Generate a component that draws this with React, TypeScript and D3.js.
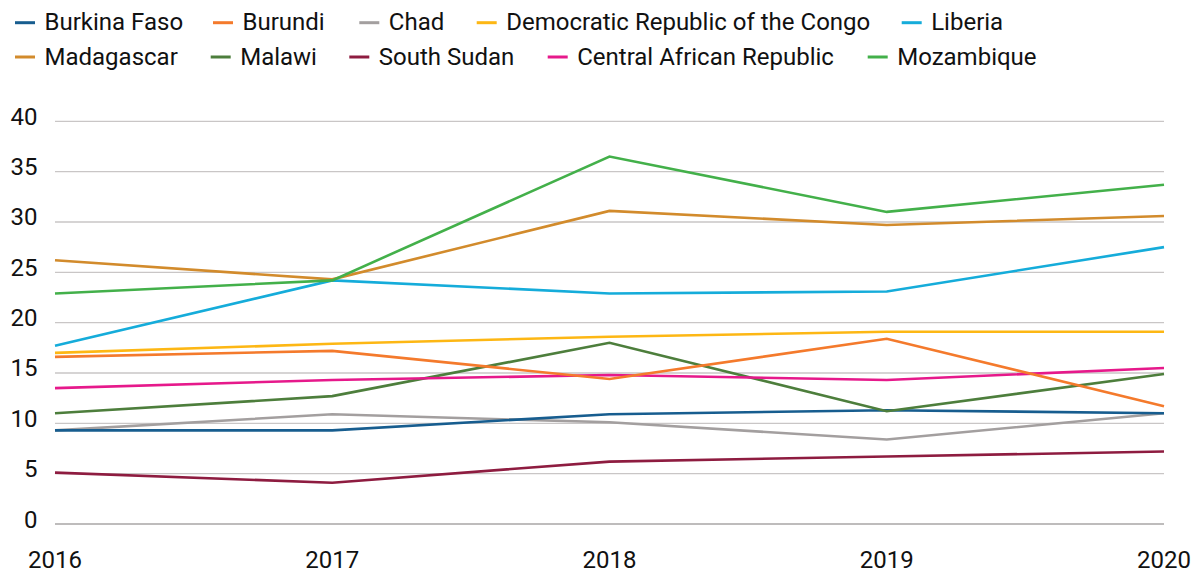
import React, { useEffect, useRef } from "react";
import * as d3 from "d3";

const years = [2016, 2017, 2018, 2019, 2020];
const yTicks = [0, 5, 10, 15, 20, 25, 30, 35, 40];

const countries = [
  "Burkina Faso", "Burundi", "Chad", "Democratic Republic of the Congo", "Liberia",
  "Madagascar", "Malawi", "South Sudan", "Central African Republic", "Mozambique",
];
const colors = [
  "#175d8f", "#f47a2c", "#a39f9f", "#fdb714", "#15acda",
  "#d28b2c", "#4d7e3c", "#8e1c40", "#e6198b", "#43b04a",
];

const burkinaFaso = [9.3, 9.3, 10.9, 11.3, 11.0];
const burundi = [16.6, 17.2, 14.4, 18.4, 11.7];
const chad = [9.3, 10.9, 10.1, 8.4, 11.0];
const drc = [17.0, 17.9, 18.6, 19.1, 19.1];
const liberia = [17.7, 24.2, 22.9, 23.1, 27.5];
const madagascar = [26.2, 24.3, 31.1, 29.7, 30.6];
const malawi = [11.0, 12.7, 18.0, 11.2, 14.9];
const southSudan = [5.1, 4.1, 6.2, 6.7, 7.2];
const car = [13.5, 14.3, 14.8, 14.3, 15.5];
const mozambique = [22.9, 24.2, 36.5, 31.0, 33.7];

const seriesValues = [burkinaFaso, burundi, chad, drc, liberia, madagascar, malawi, southSudan, car, mozambique];
const legendRows = [[0, 1, 2, 3, 4], [5, 6, 7, 8, 9]];
const legendX = [[15, 213, 359.3, 476.7, 901.7], [15, 210.7, 349.3, 547.7, 867.7]];

const W = 1191, H = 571;
const FONT = "Roboto, 'Noto Sans', sans-serif";

export default function App() {
  const ref = useRef<SVGSVGElement>(null);
  useEffect(() => {
    const svg = d3.select(ref.current);
    svg.selectAll("*").remove();
    const x = d3.scalePoint<number>().domain(years).range([55, 1164]);
    const y = d3.scaleLinear().domain([0, 40]).range([524, 121.3]);

    // grid
    const g = svg.append("g");
    g.selectAll("line.grid").data(yTicks).join("line")
      .attr("x1", 55).attr("x2", 1164)
      .attr("y1", d => y(d)).attr("y2", d => y(d))
      .attr("stroke", d => (d === 0 ? "#a9a6a6" : "#c9c6c6"))
      .attr("stroke-width", 1.3);
    g.selectAll("text.yt").data(yTicks).join("text")
      .attr("x", 37.5).attr("y", d => y(d) + 3.5)
      .attr("text-anchor", "end")
      .attr("font-family", FONT).attr("font-size", 24).attr("fill", "#111")
      .text(d => String(d));
    g.selectAll("text.xt").data(years).join("text")
      .attr("x", d => x(d)!).attr("y", 568)
      .attr("text-anchor", "middle")
      .attr("font-family", FONT).attr("font-size", 24).attr("fill", "#111")
      .text(d => String(d));

    const line = d3.line<number>().x((_, i) => x(years[i])!).y(d => y(d));
    const order = [2, 0, 7, 6, 8, 1, 3, 4, 5, 9];
    order.forEach(i => {
      svg.append("path").attr("d", line(seriesValues[i])!)
        .attr("fill", "none").attr("stroke", colors[i]).attr("stroke-width", 2.6)
        .attr("stroke-linejoin", "miter");
    });

    // legend
    const rowY = [22.7, 57];
    legendRows.forEach((row, r) => {
      row.forEach((i, k) => {
        const cx = legendX[r][k];
        svg.append("line").attr("x1", cx).attr("x2", cx + 20)
          .attr("y1", rowY[r]).attr("y2", rowY[r])
          .attr("stroke", colors[i]).attr("stroke-width", 3);
        svg.append("text").attr("x", cx + 29.5).attr("y", rowY[r] + 7.6)
          .attr("font-family", FONT).attr("font-size", 24).attr("fill", "#111")
          .text(countries[i]);
      });
    });
  }, []);
  return (
    <svg ref={ref} width={W} height={H}
      style={{ position: "absolute", left: 0, top: 0, background: "#fff" }} />
  );
}
